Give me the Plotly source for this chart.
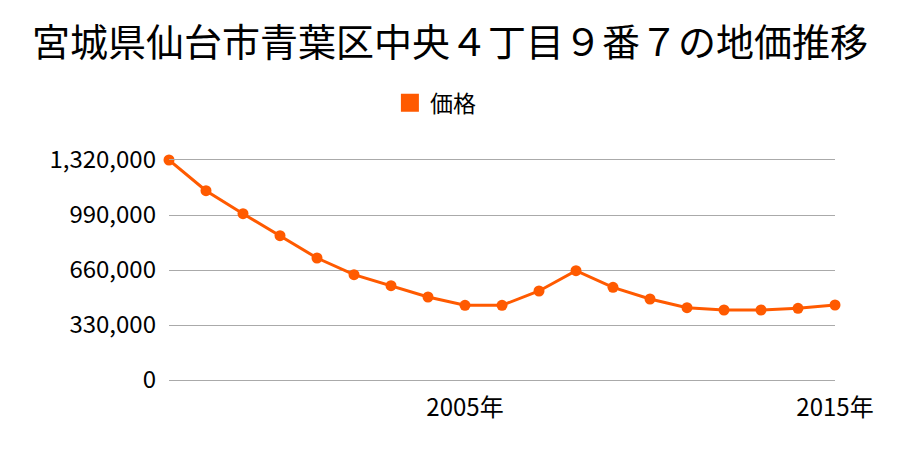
import plotly.graph_objects as go

years = list(range(1997, 2016))
prices = [1320000, 1136000, 998000, 866000, 732000, 632000, 566000, 498000,
          448000, 448000, 534000, 656000, 556000, 486000, 434000, 420000,
          420000, 430000, 450000]
y_ticks = [0, 330000, 660000, 990000, 1320000]
y_tick_labels = ["0", "330,000", "660,000", "990,000", "1,320,000"]
x_ticks = [2005, 2015]
x_tick_labels = ["2005年", "2015年"]
series_name = "価格"
title = "宮城県仙台市青葉区中央４丁目９番７の地価推移"

color = "#ff5a00"
font = "Noto Sans CJK JP, sans-serif"

fig = go.Figure()
fig.add_trace(go.Scatter(
    x=years, y=prices, mode="lines+markers",
    line=dict(color=color, width=3),
    marker=dict(color=color, size=11),
    showlegend=False, cliponaxis=False, name=series_name,
))
fig.add_trace(go.Scatter(
    x=[None], y=[None], mode="markers", name=series_name,
    marker=dict(color=color, size=16, symbol="square",
                line=dict(color=color, width=2)),
    showlegend=True,
))
fig.update_layout(
    width=900, height=450,
    margin=dict(l=169, r=65, t=160, b=70),
    paper_bgcolor="white", plot_bgcolor="white",
    font=dict(family=font, color="#000000", size=24),
    title=dict(text=title, x=0.5, xanchor="center", y=0.905, yanchor="middle",
               font=dict(size=38, family=font, color="#000000")),
    legend=dict(orientation="h", x=0.40, xanchor="center", y=1.26, yanchor="middle",
                font=dict(size=23, family=font), itemsizing="trace"),
    xaxis=dict(range=[1997, 2015], tickvals=x_ticks, ticktext=x_tick_labels,
               showgrid=False, zeroline=False, showline=True, mirror=True,
               linecolor="#aaaaaa", linewidth=1, ticks="",
               tickfont=dict(size=24), ticklabelstandoff=6),
    yaxis=dict(range=[0, 1320000], tickvals=y_ticks, ticktext=y_tick_labels,
               showgrid=True, gridcolor="#aaaaaa", gridwidth=1,
               zeroline=False, showline=False, ticks="",
               tickfont=dict(size=24), ticklabelstandoff=12),
)
fig.write_html("out.html")
